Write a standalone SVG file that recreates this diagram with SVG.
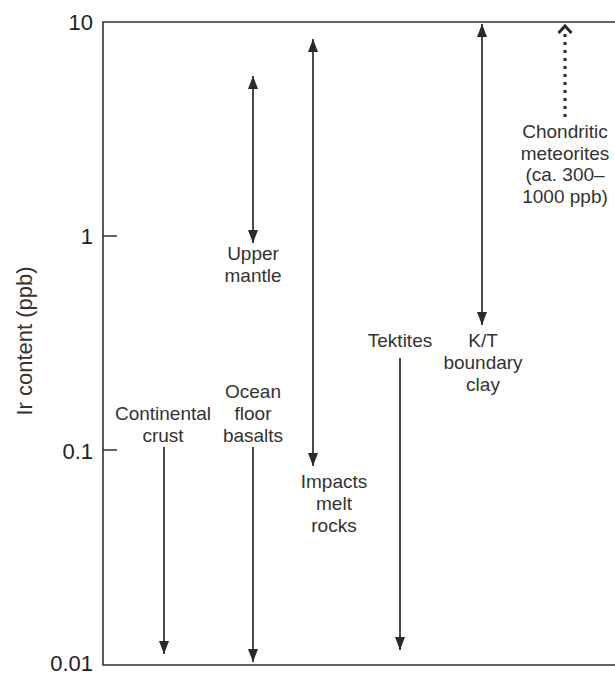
<svg xmlns="http://www.w3.org/2000/svg" width="615" height="675" viewBox="0 0 615 675">
<style>
.lbl{font-family:"Liberation Sans",Arial,sans-serif;font-size:19px;fill:#333;text-anchor:middle}
.tick{font-family:"Liberation Sans",Arial,sans-serif;font-size:22px;fill:#222;text-anchor:end}
.axis{stroke:#333;stroke-width:1.6;fill:none}
.arr{stroke:#4a4a4a;stroke-width:2;fill:none;marker-end:url(#tri)}
.arr2{stroke:#4a4a4a;stroke-width:2;fill:none;marker-start:url(#tri);marker-end:url(#tri)}
</style>
<defs>
<marker id="tri" viewBox="0 0 13 10" refX="13" refY="5" markerWidth="13" markerHeight="10" markerUnits="userSpaceOnUse" orient="auto-start-reverse">
<path d="M0,0 L13,5 L0,10 z" fill="#2a2a2a"/>
</marker>
</defs>
<rect width="615" height="675" fill="#fff"/>
<g id="axes">
<path class="axis" d="M615,22 H103 V665 H615"/>
<path class="axis" d="M103,236 H117 M103,450 H117"/>
<text class="tick" x="93" y="30">10</text>
<text class="tick" x="93" y="244">1</text>
<text class="tick" x="93" y="459">0.1</text>
<text class="tick" x="93" y="671">0.01</text>
<text font-family="Liberation Sans,Arial,sans-serif" font-size="22" fill="#333" text-anchor="middle" transform="translate(32,341) rotate(-90)">Ir content (ppb)</text>
</g>
<g id="connectors">
<line class="arr2" x1="253" y1="76" x2="253" y2="243"/>
<line class="arr2" x1="313" y1="39" x2="313" y2="466"/>
<line class="arr2" x1="482" y1="24" x2="482" y2="325"/>
<line class="arr" x1="400" y1="358" x2="400" y2="650"/>
<line class="arr" x1="164" y1="447" x2="164" y2="654"/>
<line class="arr" x1="253" y1="447" x2="253" y2="662"/>
<line x1="565" y1="117" x2="565" y2="30" stroke="#2a2a2a" stroke-width="3" stroke-dasharray="3 5"/>
<polyline points="558.5,33 565,26 571.5,33" fill="none" stroke="#2a2a2a" stroke-width="3"/>
</g>
<g id="upper-mantle"><text class="lbl" x="253" y="260">Upper</text><text class="lbl" x="253" y="282">mantle</text></g>
<g id="impacts"><text class="lbl" x="334" y="488">Impacts</text><text class="lbl" x="334" y="510">melt</text><text class="lbl" x="334" y="532">rocks</text></g>
<g id="kt"><text class="lbl" x="483" y="347">K/T</text><text class="lbl" x="483" y="369">boundary</text><text class="lbl" x="483" y="391">clay</text></g>
<g id="tektites"><text class="lbl" x="400" y="347">Tektites</text></g>
<g id="continental"><text class="lbl" x="163" y="420">Continental</text><text class="lbl" x="163" y="442">crust</text></g>
<g id="ocean"><text class="lbl" x="253" y="398">Ocean</text><text class="lbl" x="253" y="420">floor</text><text class="lbl" x="253" y="442">basalts</text></g>
<g id="chondritic"><text class="lbl" x="565" y="138">Chondritic</text><text class="lbl" x="565" y="160">meteorites</text><text class="lbl" x="565" y="181">(ca. 300–</text><text class="lbl" x="565" y="203">1000 ppb)</text></g>
</svg>
